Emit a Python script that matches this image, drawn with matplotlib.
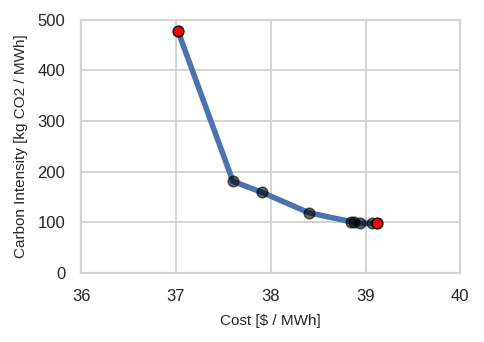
import matplotlib
matplotlib.use("Agg")
import matplotlib.pyplot as plt
import seaborn as sns


# Pareto front: cost vs carbon intensity
COST = [37.02, 37.60, 37.91, 38.40, 38.85, 38.88, 38.94, 39.07, 39.12]
CARBON = [478, 181, 159, 119, 101, 100, 98, 98, 99]

X_TICKS = [36, 37, 38, 39, 40]
Y_TICKS = [0, 100, 200, 300, 400, 500]


def main():
    sns.set_style("whitegrid")
    plt.rcParams["font.family"] = ["Liberation Sans", "DejaVu Sans"]

    fig, ax = plt.subplots(figsize=(4.84, 3.42), dpi=100)

    ax.plot(COST, CARBON, color="#4c72b0", linewidth=4, zorder=2)
    ax.scatter(COST[1:-1], CARBON[1:-1], s=60, color="black", alpha=0.6,
               edgecolor="black", zorder=3)
    ends_x = [COST[0], COST[-1]]
    ends_y = [CARBON[0], CARBON[-1]]
    ax.scatter(ends_x, ends_y, s=60, color="red", edgecolor="black",
               linewidth=1, zorder=4)

    ax.set_xlim(36, 40)
    ax.set_ylim(0, 500)
    ax.set_xticks(X_TICKS)
    ax.set_yticks(Y_TICKS)
    ax.tick_params(labelsize=12, colors="#262626", pad=8)
    ax.grid(color="#d4d4d4", linewidth=1.4)
    ax.set_xlabel("Cost [$ / MWh]", fontsize=11, labelpad=7)
    ax.set_ylabel("Carbon Intensity [kg CO2 / MWh]", fontsize=11, labelpad=7)
    for spine in ax.spines.values():
        spine.set_color("#d4d4d4")
        spine.set_linewidth(1.6)

    fig.subplots_adjust(left=0.168, right=0.951, top=0.942, bottom=0.202)
    fig.savefig("out.png", dpi=100)


if __name__ == "__main__":
    main()
